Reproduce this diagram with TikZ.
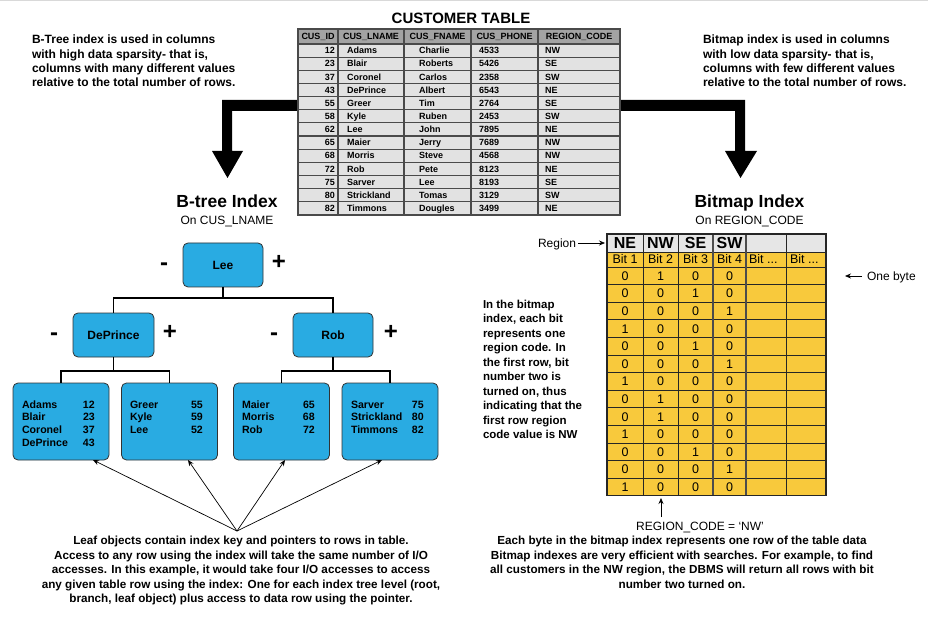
\documentclass[tikz,border=0pt]{standalone}
\usepackage{fontspec}
\setmainfont{Liberation Sans}
\usetikzlibrary{arrows.meta}
\definecolor{treeblue}{HTML}{29ABE2}
\definecolor{bmyellow}{HTML}{F8C93C}
\definecolor{cellgray}{HTML}{E2E2E2}
\definecolor{hdrgray}{HTML}{A3A3A3}
\definecolor{gridgray}{HTML}{4A4A4A}
\definecolor{bmhdr}{HTML}{E6E6E6}
\newcommand{\setfs}[2]{\fontsize{#1}{#2}\selectfont}
\begin{document}
\begin{tikzpicture}[x=1pt,y=-1pt,
  every node/.style={inner sep=0pt,outer sep=0pt},
  para/.style={font=\bfseries\setfs{12}{14.1}},
  parab/.style={font=\bfseries\setfs{11.7}{14.5}},
  hdr/.style={font=\bfseries\setfs{9}{11},anchor=base},
  cell/.style={font=\bfseries\setfs{9}{11}},
  bnode/.style={draw=black!80,line width=0.8pt,fill=treeblue,rounded corners=5pt,minimum width=80pt,minimum height=44pt,font=\bfseries\setfs{12}{14}},
  leafbox/.style={draw=black!80,line width=0.8pt,fill=treeblue,rounded corners=5pt,minimum width=96pt,minimum height=77pt},
  leaftxt/.style={font=\bfseries\setfs{10.6}{12.8},anchor=base west},
  conn/.style={line width=1.1pt,black},
  ptr/.style={line width=0.7pt,black,-{Stealth[length=6pt,width=5pt]}},
  pm/.style={font=\bfseries\setfs{24}{24}},
  bmh/.style={font=\bfseries\setfs{16}{18},anchor=base},
  bmt/.style={font=\setfs{12.5}{14},anchor=base},
  reg/.style={font=\setfs{12}{14}}
]
\useasboundingbox (0,0) rectangle (928,617);
\fill[white] (0,0) rectangle (928,617);
\draw[black!15] (0,0.5) -- (928,0.5);

% big black arrows
\fill[black] (222,100) -- (745,100) -- (745,151) -- (757,151) -- (740.5,178) -- (725,151) -- (735,151) -- (735,111) -- (232,111) -- (232,151) -- (243,151) -- (227.5,178) -- (212,151) -- (222,151) -- cycle;

% customer table
\node[font=\bfseries\setfs{15}{18},anchor=base] (ctitle) at (461,23.5) {CUSTOMER TABLE};
\fill[cellgray] (298,44) rectangle (620,215);
\fill[hdrgray] (298,29) rectangle (620,44);
\foreach \k in {1,...,12} \draw[gridgray,line width=1.2pt] (298,44+13.15*\k) -- (620,44+13.15*\k);
\draw[gridgray,line width=1.4pt] (298,44) -- (620,44);
\foreach \x in {338,404,471,538} \draw[gridgray,line width=1.6pt] (\x,29) -- (\x,215);
\draw[gridgray,line width=1.4pt] (298,29) rectangle (620,215);
\node[hdr] (h1) at (318,39.7) {CUS\_ID};
\node[hdr] (h2) at (371,39.7) {CUS\_LNAME};
\node[hdr] (h3) at (437.5,39.7) {CUS\_FNAME};
\node[hdr] (h4) at (504.5,39.7) {CUS\_PHONE};
\node[hdr] (h5) at (579,39.7) {REGION\_CODE};
\foreach \i/\id/\ln/\fn/\ph/\rc in {1/12/Adams/Charlie/4533/NW, 2/23/Blair/Roberts/5426/SE, 3/37/Coronel/Carlos/2358/SW, 4/43/DePrince/Albert/6543/NE, 5/55/Greer/Tim/2764/SE, 6/58/Kyle/Ruben/2453/SW, 7/62/Lee/John/7895/NE, 8/65/Maier/Jerry/7689/NW, 9/68/Morris/Steve/4568/NW, 10/72/Rob/Pete/8123/NE, 11/75/Sarver/Lee/8193/SE, 12/80/Strickland/Tomas/3129/SW, 13/82/Timmons/Dougles/3499/NE}{
  \path (335,44+13.15*\i-3.4) node[cell,anchor=base east] (cid\i) {\id}
        (347,44+13.15*\i-3.4) node[cell,anchor=base west] (cln\i) {\ln}
        (419,44+13.15*\i-3.4) node[cell,anchor=base west] (cfn\i) {\fn}
        (479,44+13.15*\i-3.4) node[cell,anchor=base west] (cph\i) {\ph}
        (545,44+13.15*\i-3.4) node[cell,anchor=base west] (crc\i) {\rc};
}

% side texts (base anchor = last line's baseline)
\node[para,anchor=base west,align=left] (tl) at (32,86.3) {B-Tree index is used in columns\\with high data sparsity- that is,\\columns with many different values\\relative to the total number of rows.};
\node[para,anchor=base west,align=left] (tr) at (703,86.3) {Bitmap index is used in columns\\with low data sparsity- that is,\\columns with few different values\\relative to the total number of rows.};

% B-tree
\node[font=\bfseries\setfs{17.5}{20},anchor=base] (bt) at (227,208) {B-tree Index};
\node[font=\setfs{12}{14},anchor=base] (bton) at (227,225) {On CUS\_LNAME};
\node[bnode] (lee) at (223,265) {Lee};
\node[bnode,minimum width=81pt] (dep) at (113.5,335) {DePrince};
\node[bnode] (rob) at (333,335) {Rob};
\node[pm] (leem) at (164,267) {-};
\node[pm] (leep) at (279,262) {+};
\node[pm] (depm) at (54,337) {-};
\node[pm] (depp) at (170,332) {+};
\node[pm] (robm) at (274,337) {-};
\node[pm] (robp) at (391,332) {+};
\draw[conn] (lee.south) -- ++(0,11) -| (dep.north);
\draw[conn] (lee.south) -- ++(0,11) -| (rob.north);
\node[leafbox] (l1) at (61,421.5) {};
\node[leafbox] (l2) at (169.5,421.5) {};
\node[leafbox] (l3) at (281.5,421.5) {};
\node[leafbox] (l4) at (390,421.5) {};
\draw[conn] (dep.south) -- ++(0,14) -| (l1.north);
\draw[conn] (dep.south) -- ++(0,14) -| (l2.north);
\draw[conn] (rob.south) -- ++(0,14) -| (l3.north);
\draw[conn] (rob.south) -- ++(0,14) -| (l4.north);
\node[leaftxt] (t1) at (22,408) {\begin{tabular}[t]{@{}p{61pt}@{}l@{}}Adams&12\\Blair&23\\Coronel&37\\DePrince&43\end{tabular}};
\node[leaftxt] (t2) at (130,408) {\begin{tabular}[t]{@{}p{61pt}@{}l@{}}Greer&55\\Kyle&59\\Lee&52\end{tabular}};
\node[leaftxt] (t3) at (242,408) {\begin{tabular}[t]{@{}p{61pt}@{}l@{}}Maier&65\\Morris&68\\Rob&72\end{tabular}};
\node[leaftxt] (t4) at (351,408) {\begin{tabular}[t]{@{}p{61pt}@{}l@{}}Sarver&75\\Strickland&80\\Timmons&82\end{tabular}};
\coordinate (src) at (237,531);
\draw[ptr] (src) -- ([xshift=32pt]l1.south);
\draw[ptr] (src) -- ([xshift=18.5pt]l2.south);
\draw[ptr] (src) -- ([xshift=3.5pt]l3.south);
\draw[ptr] (src) -- ([xshift=-8pt]l4.south);
\node[parab,anchor=base,align=center] (bl) at (241,602.5) {Leaf objects contain index key and pointers to rows in table.\\Access to any row using the index will take the same number of I/O\\accesses. In this example, it would take four I/O accesses to access\\any given table row using the index: One for each index tree level (root,\\branch, leaf object) plus access to data row using the pointer.};

% Bitmap
\node[font=\bfseries\setfs{17.5}{20},anchor=base] (bm) at (749.5,208) {Bitmap Index};
\node[font=\setfs{12}{14},anchor=base] (bmon) at (749.5,225) {On REGION\_CODE};
\fill[bmhdr] (607,234) rectangle (826,252);
\fill[bmyellow] (607,252) rectangle (826,495.8);
\foreach \k in {0,...,12} \draw[black!85,line width=0.9pt] (607,267+17.6*\k) -- (826,267+17.6*\k);
\draw[black!85,line width=0.9pt] (607,252) -- (826,252);
\foreach \x in {643,678,786} \draw[black!85,line width=0.9pt] (\x,234) -- (\x,495.8);
\foreach \x in {713,746} \draw[black!70,line width=1.6pt] (\x,234) -- (\x,495.8);
\draw[black!85,line width=1.1pt] (607,234) rectangle (826,495.8);
\node[bmh] (hne) at (625,248.7) {NE};
\node[bmh] (hnw) at (660.5,248.7) {NW};
\node[bmh] (hse) at (695.5,248.7) {SE};
\node[bmh] (hsw) at (729.5,248.7) {SW};
\node[bmt] (b1) at (625,264) {Bit 1};
\node[bmt] (b2) at (660.5,264) {Bit 2};
\node[bmt] (b3) at (695.5,264) {Bit 3};
\node[bmt] (b4) at (729.5,264) {Bit 4};
\node[bmt,anchor=base west] (b5) at (749,264) {Bit ...};
\node[bmt,anchor=base west] (b6) at (790,264) {Bit ...};
\foreach \k/\a/\b/\c/\d in {1/0/1/0/0, 2/0/0/1/0, 3/0/0/0/1, 4/1/0/0/0, 5/0/0/1/0, 6/0/0/0/1, 7/1/0/0/0, 8/0/1/0/0, 9/0/1/0/0, 10/1/0/0/0, 11/0/0/1/0, 12/0/0/0/1, 13/1/0/0/0}{
  \path (625,267+17.6*\k-4.3) node[bmt] (ba\k) {\a}
        (660.5,267+17.6*\k-4.3) node[bmt] (bb\k) {\b}
        (695.5,267+17.6*\k-4.3) node[bmt] (bc\k) {\c}
        (729.5,267+17.6*\k-4.3) node[bmt] (bd\k) {\d};
}
\node[reg,anchor=base west] (reg) at (538,247.3) {Region};
\coordinate (regtip) at (605,243);
\draw[ptr] ([xshift=2pt]reg.east |- regtip) -- (regtip);
\node[reg,anchor=base west] (ob) at (867,280.3) {One byte};
\coordinate (obtail) at (862,276);
\coordinate (obtip) at (845,276);
\draw[ptr] (obtail) -- (obtip);
\node[font=\bfseries\setfs{11.5}{14.5},anchor=base west,align=left] (mid) at (483,438.5) {In the bitmap\\index, each bit\\represents one\\region code. In\\the first row, bit\\number two is\\turned on, thus\\indicating that the\\first row region\\code value is NW};
\coordinate (nwtail) at (661,517);
\coordinate (nwtip) at (661,498);
\draw[ptr] (nwtail) -- (nwtip);
\node[reg,anchor=base] (nwl) at (700,530) {REGION\_CODE = ‘NW’};
\node[parab,anchor=base,align=center] (br) at (682,588.2) {Each byte in the bitmap index represents one row of the table data\\Bitmap indexes are very efficient with searches. For example, to find\\all customers in the NW region, the DBMS will return all rows with bit\\number two turned on.};
\end{tikzpicture}
\end{document}
